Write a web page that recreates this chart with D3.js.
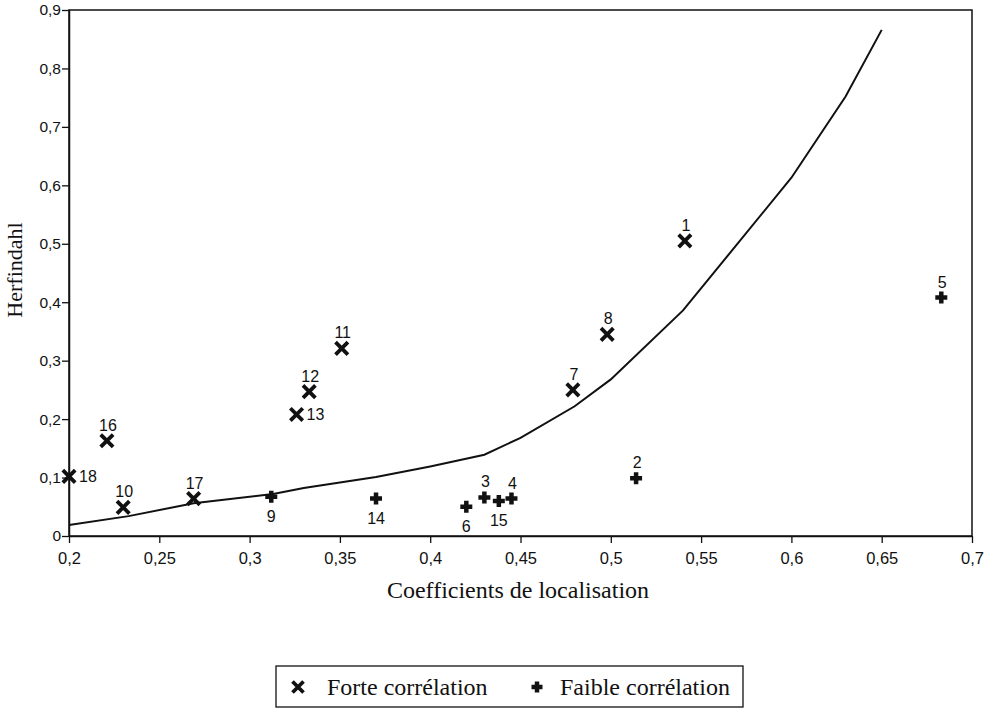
<!DOCTYPE html>
<html>
<head>
<meta charset="utf-8">
<script src="https://cdn.jsdelivr.net/npm/d3@7"></script>
<style>
  body { margin: 0; background: #fff; }
  svg { display: block; }
</style>
</head>
<body>
<svg id="chart" width="1001" height="711"></svg>
<script>
// forte correlation (x markers)
const forteIds = ['1', '8', '7', '11', '12', '13', '16', '18', '10', '17'];
const forteX = [0.541, 0.498, 0.479, 0.351, 0.333, 0.326, 0.221, 0.200, 0.230, 0.269];
const forteY = [0.505, 0.345, 0.250, 0.321, 0.247, 0.208, 0.163, 0.102, 0.049, 0.064];
const forteLabelPos = ['top', 'top', 'top', 'top', 'top', 'right', 'top', 'right', 'top', 'top'];

// faible correlation (+ markers)
const faibleIds = ['9', '14', '6', '3', '15', '4', '2', '5'];
const faibleX = [0.312, 0.370, 0.420, 0.430, 0.438, 0.445, 0.514, 0.683];
const faibleY = [0.067, 0.064, 0.050, 0.066, 0.060, 0.064, 0.099, 0.408];
const faibleLabelPos = ['bottom', 'bottom', 'bottom', 'top', 'bottom', 'top', 'top', 'top'];

// curve
const curveX = [0.2, 0.233, 0.269, 0.313, 0.33, 0.37, 0.40, 0.43, 0.45, 0.48, 0.50, 0.54, 0.60, 0.63, 0.65];
const curveY = [0.019, 0.034, 0.056, 0.072, 0.082, 0.101, 0.119, 0.139, 0.168, 0.222, 0.268, 0.386, 0.613, 0.752, 0.866];

const xTicks = [0.2, 0.25, 0.3, 0.35, 0.4, 0.45, 0.5, 0.55, 0.6, 0.65, 0.7];
const yTicks = [0, 0.1, 0.2, 0.3, 0.4, 0.5, 0.6, 0.7, 0.8, 0.9];

const mLeft = 69, mRight = 972, mTop = 10, mBottom = 536;
const svg = d3.select('#chart');

const x = d3.scaleLinear().domain([0.2, 0.7]).range([mLeft, mRight]);
const y = d3.scaleLinear().domain([0, 0.9]).range([mBottom, mTop]);
const fmt = d => String(d).replace('.', ',');
const serif = '"Liberation Serif", "Times New Roman", serif';
const sans = '"Liberation Sans", Arial, sans-serif';

// frame
svg.append('rect')
  .attr('x', mLeft).attr('y', mTop)
  .attr('width', mRight - mLeft).attr('height', mBottom - mTop)
  .attr('fill', 'none').attr('stroke', '#111').attr('stroke-width', 1.5);

const xAxis = svg.append('g')
  .attr('transform', `translate(0,${mBottom})`)
  .call(d3.axisBottom(x).tickValues(xTicks).tickFormat(fmt).tickSize(7).tickSizeOuter(0));
const yAxis = svg.append('g')
  .attr('transform', `translate(${mLeft},0)`)
  .call(d3.axisLeft(y).tickValues(yTicks).tickFormat(fmt).tickSize(7).tickSizeOuter(0));

[xAxis, yAxis].forEach(g => {
  g.select('.domain').attr('stroke', '#111').attr('stroke-width', 1.5);
  g.selectAll('.tick line').attr('stroke', '#111').attr('stroke-width', 1.3);
  g.selectAll('.tick text')
    .attr('fill', '#111')
    .style('font-family', sans);
});
xAxis.selectAll('.tick text').attr('y', 13).attr('dy', '0.9em').style('font-size', '16.5px');
yAxis.selectAll('.tick text').attr('x', -8).style('font-size', '15.5px');

// axis titles
svg.append('text')
  .attr('x', 518).attr('y', 598)
  .attr('text-anchor', 'middle')
  .style('font-family', serif)
  .style('font-size', '24px')
  .attr('fill', '#111')
  .text('Coefficients de localisation');

svg.append('text')
  .attr('transform', 'translate(22,270) rotate(-90)')
  .attr('text-anchor', 'middle')
  .style('font-family', serif)
  .style('font-size', '22px')
  .attr('fill', '#111')
  .text('Herfindahl');

// curve
const line = d3.line().x(d => x(d[0])).y(d => y(d[1]));
svg.append('path')
  .datum(d3.zip(curveX, curveY))
  .attr('d', line)
  .attr('fill', 'none')
  .attr('stroke', '#111')
  .attr('stroke-width', 2);

function cross(g, s) {
  g.append('path')
    .attr('d', `M${-s},${-s}L${s},${s}M${-s},${s}L${s},${-s}`)
    .attr('stroke', '#111').attr('stroke-width', 3.8).attr('fill', 'none');
}
function plus(g, s) {
  g.append('path')
    .attr('d', `M${-s},0L${s},0M0,${-s}L0,${s}`)
    .attr('stroke', '#111').attr('stroke-width', 4.5).attr('fill', 'none');
}

function addLabel(g, id, pos) {
  const t = g.append('text')
    .style('font-family', sans)
    .style('font-size', '16px')
    .attr('fill', '#111')
    .text(id);
  if (pos === 'top') t.attr('text-anchor', 'middle').attr('x', 1).attr('y', -10);
  else if (pos === 'bottom') t.attr('text-anchor', 'middle').attr('x', 0).attr('y', 25);
  else t.attr('text-anchor', 'start').attr('x', 10).attr('y', 6);
}

const forte = d3.zip(forteIds, forteX, forteY, forteLabelPos);
svg.append('g').selectAll('g').data(forte).join('g')
  .attr('transform', d => `translate(${x(d[1])},${y(d[2])})`)
  .each(function (d) {
    const g = d3.select(this);
    cross(g, 6.2);
    addLabel(g, d[0], d[3]);
  });

const faible = d3.zip(faibleIds, faibleX, faibleY, faibleLabelPos);
svg.append('g').selectAll('g').data(faible).join('g')
  .attr('transform', d => `translate(${x(d[1])},${y(d[2])})`)
  .each(function (d) {
    const g = d3.select(this);
    plus(g, 6);
    addLabel(g, d[0], d[3]);
  });

// legend
const lg = svg.append('g');
lg.append('rect')
  .attr('x', 276).attr('y', 666).attr('width', 467).attr('height', 41)
  .attr('fill', 'none').attr('stroke', '#111').attr('stroke-width', 1.3);
cross(lg.append('g').attr('transform', 'translate(298,687)'), 5.5);
plus(lg.append('g').attr('transform', 'translate(537,687)'), 5.5);
lg.append('text').attr('x', 327).attr('y', 695)
  .style('font-family', serif)
  .style('font-size', '24px').attr('fill', '#111')
  .text('Forte corrélation');
lg.append('text').attr('x', 560).attr('y', 695)
  .style('font-family', serif)
  .style('font-size', '24px').attr('fill', '#111')
  .text('Faible corrélation');
</script>
</body>
</html>
